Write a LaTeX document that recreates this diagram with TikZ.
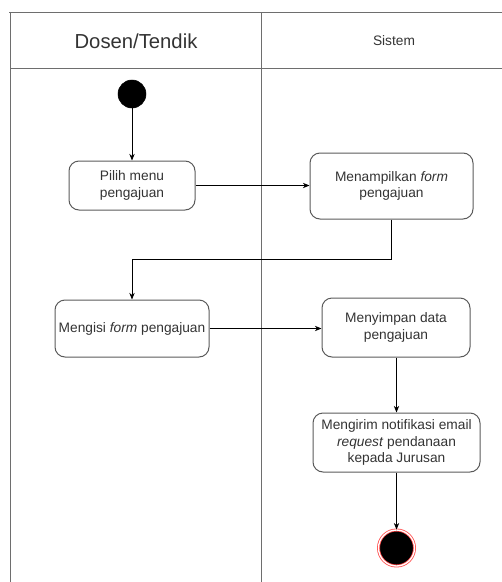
\documentclass[tikz,border=0pt]{standalone}
\usepackage{fontspec}
\setmainfont{Liberation Sans}
\usepackage{tikz}
\usetikzlibrary{positioning,arrows.meta}
\definecolor{laneGrey}{HTML}{6E6E6E}
\definecolor{boxGrey}{HTML}{5A5A5A}
\definecolor{txtGrey}{HTML}{333333}
\tikzstyle{flow}=[-{Stealth[length=5pt,width=4pt]}, black, line width=0.6pt]
\tikzstyle{lane}=[laneGrey, line width=0.75pt]
\tikzstyle {action} = [rectangle, rounded corners=7.5pt, align=center, draw=boxGrey, line width=0.75pt, text=txtGrey, font=\fontsize{10.3}{12.6}\selectfont, inner sep=2pt]
\tikzstyle {startNode} = [circle, fill=black, draw=black, minimum size=21pt, inner sep=0pt]
\tikzstyle {endNode} = [circle, fill=black, draw=red!70, line width=0.6pt, double=white, double distance=1pt, minimum size=27pt, inner sep=0pt]

\begin{document}
\begin{tikzpicture}[x=0.75pt, y=-0.75pt]
        \useasboundingbox (0,0) rectangle (502,582);

        %Lanes
        \draw [style=lane] (9,12) -- (502,12);
        \draw [style=lane] (10,68) -- (502,68);
        \draw [style=lane] (10,12) -- (10,582);
        \draw [style=lane] (261,12) -- (261,582);
        \node [text=txtGrey, font=\fontsize{15.2}{18}\selectfont] (DosenLane) at (136,41) {Dosen/Tendik};
        \node [text=txtGrey, font=\fontsize{10.3}{12}\selectfont] (SistemLane) at (394,41) {Sistem};

        %Nodes
        \node [style=startNode] (Start) at (132,94) {};
        \node [style=action, minimum width=94.5pt, minimum height=36.75pt] (PilihMenu) at (132,185.5) {Pilih menu\\pengajuan};
        \node [style=action, minimum width=122.25pt, minimum height=49.5pt] (TampilForm) at (391.5,186) {Menampilkan \textit{form}\\pengajuan};
        \node [style=action, minimum width=115.5pt, minimum height=42.75pt] (IsiForm) at (132,328.5) {Mengisi \textit{form} pengajuan};
        \node [style=action, minimum width=111pt, minimum height=44.25pt] (SimpanData) at (396,327.5) {Menyimpan data\\pengajuan};
        \node [style=action, minimum width=125.25pt, minimum height=44.25pt] (KirimNotif) at (396.5,442.5) {Mengirim notifikasi email\\\textit{request} pendanaan\\kepada Jurusan};
        \node [style=endNode] (End) at (396.5,548) {};
        \coordinate (Belok) at (132,259);

        % Dosen
        \draw [style={flow}] (Start) -- (PilihMenu);
        \draw [style={flow}] (PilihMenu.east) -- (PilihMenu.east -| TampilForm.west);

        % Between
        \draw [style={flow}] (TampilForm.south) |- (Belok) -- (IsiForm.north);
        \draw [style={flow}] (IsiForm.east) -- (IsiForm.east -| SimpanData.west);

        %Sistem
        \draw [style={flow}] (SimpanData.south -| KirimNotif.north) -- (KirimNotif.north);
        \draw [style={flow}] (KirimNotif) -- (End);
    \end{tikzpicture}
\end{document}
